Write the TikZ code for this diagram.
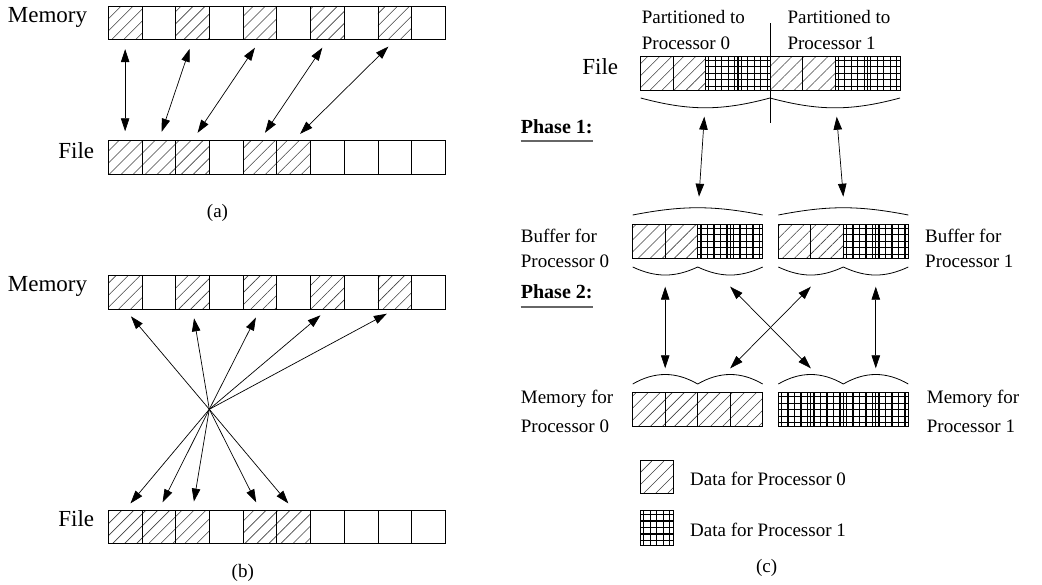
\documentclass[tikz,border=0pt]{standalone}
\usepackage{fontspec}
\setmainfont{Liberation Serif}
\usetikzlibrary{arrows.meta,patterns.meta}
\tikzset{
  cell/.style={draw, line width=0.8pt, inner sep=0pt, minimum width=33.7pt, minimum height=33.7pt},
  ccell/.style={cell, minimum width=32.45pt, minimum height=33.8pt},
  plain/.style={},
  hatch/.style={pattern={Lines[angle=45,distance=8.5pt,line width=0.6pt]}, pattern color=black!75},
  chk/.style={path picture={\draw[line width=1.2pt] (path picture bounding box.south west) grid[step=6.5pt] (path picture bounding box.north east);}},
  big/.style={font=\fontsize{23}{27}\selectfont, inner sep=0pt},
  lbl/.style={font=\fontsize{19}{23}\selectfont, inner sep=0pt},
  phase/.style={font=\fontsize{20}{24}\selectfont\bfseries, inner sep=0pt, anchor=base west},
  dbl/.style={<->, line width=0.7pt},
  sgl/.style={->, line width=0.7pt},
  brace/.style={line width=0.8pt},
}
\begin{document}
\begin{tikzpicture}[x=1pt, y=-1pt, >={Triangle[length=13pt,width=8.5pt]}]
  \useasboundingbox (0,0) rectangle (1042,584);

  % (a) direct access
  \node[big, anchor=base east] (mema) at (87.3,22.7) {Memory};
  \node[big, anchor=base east] (filea) at (94.3,158.3) {File};
  \foreach \i/\s in {0/hatch,1/plain,2/hatch,3/plain,4/hatch,5/plain,6/hatch,7/plain,8/hatch,9/plain}
    \node[cell,\s] (ma\i) at ({125.15+33.7*\i},23) {};
  \foreach \i/\s in {0/hatch,1/hatch,2/hatch,3/plain,4/hatch,5/hatch,6/plain,7/plain,8/plain,9/plain}
    \node[cell,\s] (fa\i) at ({125.15+33.7*\i},157.5) {};
  \foreach \m/\f in {0/0,2/1,4/2,6/4,8/5}
    \draw[dbl, shorten <=9pt, shorten >=9pt] (ma\m.south) -- (fa\f.north);
  \node[lbl] (capa) at (217.5,213.3) {(a)};

  % (b) through one point
  \node[big, anchor=base east] (memb) at (87.3,291.7) {Memory};
  \node[big, anchor=base east] (fileb) at (94.3,526.7) {File};
  \foreach \i/\s in {0/hatch,1/plain,2/hatch,3/plain,4/hatch,5/plain,6/hatch,7/plain,8/hatch,9/plain}
    \node[cell,\s] (mb\i) at ({125.15+33.7*\i},292.2) {};
  \foreach \i/\s in {0/hatch,1/hatch,2/hatch,3/plain,4/hatch,5/hatch,6/plain,7/plain,8/plain,9/plain}
    \node[cell,\s] (fb\i) at ({125.15+33.7*\i},527) {};
  \coordinate (hub) at (209.3,409.3);
  \foreach \m in {0,2,4,6,8}
    \draw[sgl, shorten >=9pt] (hub) -- (mb\m.south);
  \foreach \f in {0,1,2,4,5}
    \draw[sgl, shorten >=8.3pt] (hub) -- (fb\f.north);
  \node[lbl] (capb) at (242.8,573) {(b)};

  % (c) two phase
  \node[big, anchor=base east] (filec) at (618.3,74) {File};
  \node[lbl, anchor=base west] (part0) at (641.7,23.3) {Partitioned to};
  \node[lbl, anchor=base west] (proc0) at (641.7,49.5) {Processor 0};
  \node[lbl, anchor=base west] (part1) at (787.3,23.3) {Partitioned to};
  \node[lbl, anchor=base west] (proc1) at (787.3,49.5) {Processor 1};
  \foreach \i/\s in {0/hatch,1/hatch,2/chk,3/chk,4/hatch,5/hatch,6/chk,7/chk}
    \node[ccell,\s] (fc\i) at ({656.9+32.4*\i},73.3) {};
  \draw[line width=0.8pt] (770,23.3) -- (770,123.3);
  \draw[brace] (640.7,98) to[bend right=15] (770,98) to[bend right=15] (900,98);

  \node[phase] (ph1) at (520.7,133) {Phase 1:};
  \draw[black!60, line width=1.4pt] ([yshift=-8pt]ph1.base west) -- ([yshift=-8pt]ph1.base east);
  \coordinate (ft0) at (704.3,116.7);
  \coordinate (ft1) at (836.7,116.7);
  \coordinate (bt0) at (699,196.7);
  \coordinate (bt1) at (843.3,196.7);
  \draw[dbl] (ft0) -- (bt0);
  \draw[dbl] (ft1) -- (bt1);

  \node[lbl, anchor=base west] (buf0a) at (520.7,242.5) {Buffer for};
  \node[lbl, anchor=base west] (buf0b) at (520.7,267) {Processor 0};
  \node[lbl, anchor=base west] (buf1a) at (925,242.5) {Buffer for};
  \node[lbl, anchor=base west] (buf1b) at (925,267) {Processor 1};
  \foreach \i/\s in {0/hatch,1/hatch,2/chk,3/chk}{
    \node[ccell,\s,minimum width=32.5pt] (bl\i) at ({648.95+32.5*\i},241.3) {};
    \node[ccell,\s,minimum width=32.5pt] (br\i) at ({794.55+32.5*\i},241.3) {};
  }
  \draw[brace] (632.7,215) to[bend left=11] (762.7,215);
  \draw[brace] (778.3,215) to[bend left=11] (908.3,215);
  \draw[brace] (632.7,267) to[bend right=25] (697.7,267) to[bend right=25] (762.7,267);
  \draw[brace] (778.3,267) to[bend right=25] (843.3,267) to[bend right=25] (908.3,267);

  \node[phase] (ph2) at (520.7,298) {Phase 2:};
  \draw[black!60, line width=1.4pt] ([yshift=-9pt]ph2.base west) -- ([yshift=-9pt]ph2.base east);
  \foreach \n/\x in {0/665.2,1/730.2,2/810.8,3/875.8}{
    \coordinate (up\n) at (\x,286.7);
    \coordinate (dn\n) at (\x,368.3);
  }
  \draw[dbl] (up0) -- (dn0);
  \draw[dbl] (up1) -- (dn2);
  \draw[dbl] (up2) -- (dn1);
  \draw[dbl] (up3) -- (dn3);

  \draw[brace] (632.7,384) to[bend left=30] (697.7,384) to[bend left=30] (762.7,384);
  \draw[brace] (778.3,384) to[bend left=30] (843.3,384) to[bend left=30] (908.3,384);
  \foreach \i in {0,...,3}{
    \node[ccell,hatch,minimum width=32.5pt] (ml\i) at ({648.95+32.5*\i},409.7) {};
    \node[ccell,chk,minimum width=32.5pt] (mr\i) at ({794.55+32.5*\i},409.7) {};
  }
  \node[lbl, anchor=base west] (mem0a) at (520.7,403.5) {Memory for};
  \node[lbl, anchor=base west] (mem0b) at (520.7,432) {Processor 0};
  \node[lbl, anchor=base west] (mem1a) at (926.7,403.5) {Memory for};
  \node[lbl, anchor=base west] (mem1b) at (926.7,432) {Processor 1};

  % key
  \node[cell,hatch,minimum width=33.3pt,minimum height=33.3pt] (key0) at (656.7,476.7) {};
  \node[lbl, anchor=base west] (keyt0) at (690,485) {Data for Processor 0};
  \node[cell,chk,minimum width=33.3pt,minimum height=35pt] (key1) at (656.7,527.5) {};
  \node[lbl, anchor=base west] (keyt1) at (690,536.7) {Data for Processor 1};
  \node[lbl] (capc) at (766.7,568) {(c)};
\end{tikzpicture}
\end{document}
